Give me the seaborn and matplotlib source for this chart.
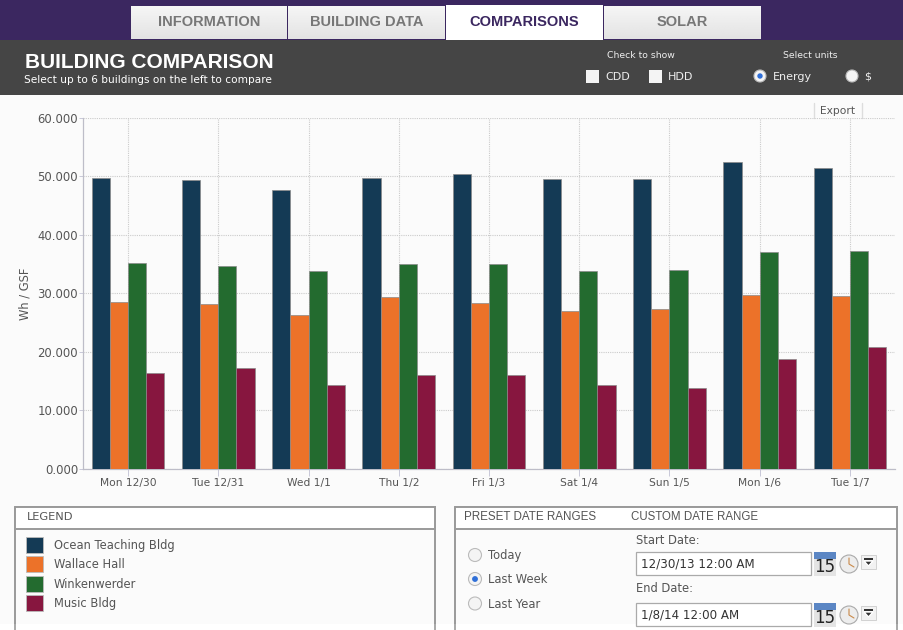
import numpy as np
import pandas as pd
import matplotlib
matplotlib.use("Agg")
import matplotlib.pyplot as plt
import seaborn as sns
from matplotlib.patches import Rectangle, Circle

days = ["Mon 12/30", "Tue 12/31", "Wed 1/1", "Thu 1/2", "Fri 1/3", "Sat 1/4", "Sun 1/5", "Mon 1/6", "Tue 1/7"]
ocean = [49.8, 49.4, 47.7, 49.8, 50.4, 49.6, 49.6, 52.4, 51.5]
wallace = [28.6, 28.1, 26.3, 29.4, 28.3, 26.9, 27.3, 29.8, 29.5]
winken = [35.2, 34.65, 33.8, 35.0, 35.0, 33.8, 34.0, 37.1, 37.3]
music = [16.3, 17.3, 14.4, 16.0, 16.0, 14.4, 13.85, 18.7, 20.8]
buildings = ["Ocean Teaching Bldg", "Wallace Hall", "Winkenwerder", "Music Bldg"]
colors = ["#143A55", "#EC7229", "#236B2F", "#87163F"]
y_ticks = [0, 10, 20, 30, 40, 50, 60]

PURPLE = "#3B2760"
DARK = "#454545"
GREY_TXT = "#555555"
BG = "#FBFBFB"

sns.set_theme(style="white")
plt.rcParams["font.family"] = ["DejaVu Sans"]

fig = plt.figure(figsize=(9.04, 6.30), dpi=100, facecolor=BG)

# page chrome, in pixel coordinates
ui = fig.add_axes([0, 0, 1, 1], zorder=0)
ui.axis("off")


def box(x, y, w, h, fc="none", ec="none", lw=1.0, z=2):
    ui.add_patch(Rectangle((x, y), w, h, facecolor=fc, edgecolor=ec, linewidth=lw, zorder=z))


def label(x, y, s, size=8, color=GREY_TXT, ha="left", family="DejaVu Sans", weight="normal"):
    ui.text(x, y, s, fontsize=size, color=color, ha=ha, va="center", family=family, weight=weight, zorder=5)


def radio(x, y, on=False, r=6.5, fc="#F4F4F4"):
    ui.add_patch(Circle((x, y), r, facecolor=fc, edgecolor="#BBBBBB", linewidth=0.8, zorder=4))
    if on:
        ui.add_patch(Circle((x, y), r * 0.45, facecolor="#2F6FD8", edgecolor="none", zorder=5))


def tab(x, w, s, active=False):
    if active:
        box(x, 5, w, 35, fc="white", z=3)
    else:
        grad = np.linspace(0.96, 0.89, 32).reshape(-1, 1)
        ui.imshow(grad, extent=(x, x + w, 39, 6), cmap="gray", vmin=0, vmax=1, aspect="auto", zorder=3)
    label(x + w / 2, 21.5, s, size=10.5, color=PURPLE if active else "#777777", ha="center",
          family="Liberation Sans", weight="bold")


box(0, 0, 904, 40, fc=PURPLE, z=1)
tab(131, 156, "INFORMATION")
tab(288, 157, "BUILDING DATA")
tab(446, 157, "COMPARISONS", active=True)
tab(604, 157, "SOLAR")
ui.set_xlim(0, 904)
ui.set_ylim(630, 0)

# dark header band
box(0, 40, 904, 55, fc=DARK, z=2)
label(25, 62, "BUILDING COMPARISON", size=15, color="white", family="Liberation Sans", weight="bold")
label(24, 80, "Select up to 6 buildings on the left to compare", size=7.6, color="white")
label(641, 56, "Check to show", size=6.7, color="#EEEEEE", ha="center")
label(810, 56, "Select units", size=6.7, color="#EEEEEE", ha="center")
box(586, 70, 13, 13, fc="#F4F4F4", z=4)
label(605, 76.5, "CDD", size=8, color="#EEEEEE")
box(649, 70, 13, 13, fc="#F4F4F4", z=4)
label(668, 76.5, "HDD", size=8, color="#EEEEEE")
radio(760, 76, on=True, r=6)
label(773, 76.5, "Energy", size=8, color="#EEEEEE")
radio(852, 76, r=6)
label(864, 76.5, "$", size=8, color="#EEEEEE")

# export button
ui.plot([814, 814], [103, 118], color="#DDDDDD", lw=1, zorder=2)
ui.plot([862, 862], [103, 118], color="#DDDDDD", lw=1, zorder=2)
label(838, 111.5, "Export", size=7.7, ha="center")

# legend panel
box(15, 507, 420, 130, ec="#9A9A9A", lw=1.4, z=2)
box(15, 507, 420, 22, fc="white", ec="#9A9A9A", lw=1.4, z=3)
label(27, 517.5, "LEGEND", size=8.2)
for i, (name, col) in enumerate(zip(buildings, colors)):
    y = 537 + i * 19.4
    box(26, y, 17, 16, fc=col, ec="#BBBBBB", lw=0.6, z=4)
    label(54, y + 8.5, name, size=8.3)

# date range panel
box(455, 507, 442, 130, ec="#9A9A9A", lw=1.4, z=2)
box(455, 507, 442, 22, fc="white", ec="#9A9A9A", lw=1.4, z=3)
label(464, 517.5, "PRESET DATE RANGES", size=8.4, family="Liberation Sans")
label(631, 517.5, "CUSTOM DATE RANGE", size=8.3, family="Liberation Sans")
radio(475, 555)
label(488, 555.5, "Today", size=8.3)
radio(475, 579, on=True)
label(488, 579.5, "Last Week", size=8.3)
radio(475, 603.5)
label(488, 604, "Last Year", size=8.3)
label(636, 541, "Start Date:", size=8.3)
label(636, 589, "End Date:", size=8.3)
for y, s in [(552, "12/30/13 12:00 AM"), (603, "1/8/14 12:00 AM")]:
    box(636, y, 175, 23, fc="white", ec="#AAAAAA", lw=0.9, z=3)
    label(641, y + 12, s, size=8.6, color="#333333")
    box(814, y, 22, 7, fc="#5B86C4", z=4)
    box(814, y + 7, 22, 17, fc="#E4E4E4", z=4)
    label(825, y + 15, "15", size=12, color="#222222", ha="center")
    ui.add_patch(Circle((849, y + 12), 9, facecolor="#EDEDED", edgecolor="#AAAAAA", linewidth=0.8, zorder=4))
    ui.plot([849, 849, 854], [y + 6, y + 12, y + 15], color="#C98A4B", lw=0.8, zorder=5)
    box(861, y + 3, 15, 14, fc="#F2F2F2", ec="#CCCCCC", lw=0.6, z=4)
    ui.add_patch(plt.Polygon([[864, y + 9], [873, y + 9], [868.5, y + 14]], facecolor="#333333", zorder=5))
    box(864, y + 6, 9, 1.6, fc="#333333", z=5)
box(0, 623.5, 904, 7, fc="#FFFFFF", z=2.5)
for x in [15, 435, 455, 897]:
    ui.plot([x, x], [623, 630], color="#9A9A9A", lw=1.2, zorder=3)

# the chart
df = pd.DataFrame({"day": days, buildings[0]: ocean, buildings[1]: wallace,
                   buildings[2]: winken, buildings[3]: music})
long_df = df.melt(id_vars="day", var_name="building", value_name="value")

ax = fig.add_axes([83 / 904, 1 - 468.7 / 630, 812 / 904, 350.7 / 630], zorder=1)
ax.patch.set_alpha(0)
sns.barplot(data=long_df, x="day", y="value", hue="building", hue_order=buildings,
            palette=colors, width=0.805, saturation=1, gap=0, legend=False, ax=ax, zorder=3,
            edgecolor="#8A8A8A", linewidth=0.5)
ax.set_xlim(-0.5, len(days) - 0.5)
ax.set_ylim(0, 60)
ax.set_yticks(y_ticks)
ax.set_yticklabels([f"{v}.000" for v in y_ticks])
ax.set_xlabel("")
ax.set_ylabel("Wh / GSF", fontsize=8.3, color=GREY_TXT, labelpad=4)
ax.grid(True, axis="both", color="#CBCBCB", linestyle=(0, (1, 1)), linewidth=0.8, zorder=0)
ax.set_axisbelow(True)
ax.tick_params(axis="x", length=5, width=0.7, color="#C8C8D8", labelsize=7.7, labelcolor=GREY_TXT, pad=2, bottom=True)
ax.tick_params(axis="y", length=3, width=0.7, color="#C8C8D8", labelsize=8.4, labelcolor=GREY_TXT, pad=0.5, left=True)
for side in ["top", "right"]:
    ax.spines[side].set_visible(False)
for side in ["left", "bottom"]:
    ax.spines[side].set_color("#BDBDC8")
    ax.spines[side].set_linewidth(0.9)

fig.savefig("out.png", dpi=100, facecolor=BG)
